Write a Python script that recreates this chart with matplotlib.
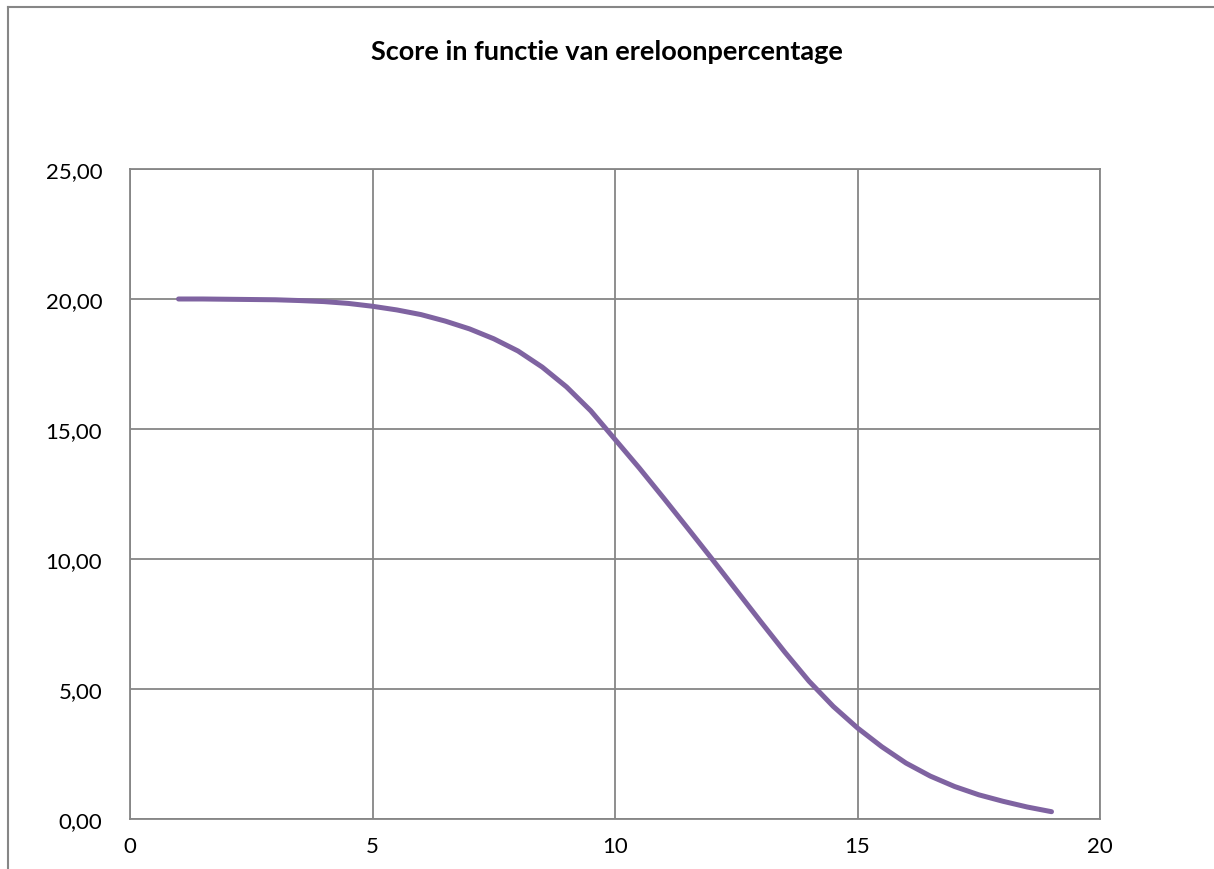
import matplotlib
matplotlib.use("Agg")
import matplotlib.pyplot as plt
from matplotlib.lines import Line2D
from matplotlib.ticker import FuncFormatter

# Gegevens (per halve eenheid)
ereloon = [1, 1.5, 2, 2.5, 3, 3.5, 4, 4.5, 5, 5.5, 6, 6.5, 7, 7.5, 8, 8.5, 9, 9.5,
           10, 10.5, 11, 11.5, 12, 12.5, 13, 13.5, 14, 14.5, 15, 15.5, 16, 16.5,
           17, 17.5, 18, 18.5, 19]
score = [20.00, 20.00, 19.99, 19.98, 19.97, 19.94, 19.90, 19.83, 19.72, 19.58,
         19.40, 19.15, 18.85, 18.47, 18.00, 17.38, 16.62, 15.70, 14.60, 13.50,
         12.35, 11.18, 10.00, 8.80, 7.60, 6.42, 5.30, 4.33, 3.50, 2.78,
         2.15, 1.65, 1.25, 0.93, 0.68, 0.46, 0.28]
x_ticks = [0, 5, 10, 15, 20]
y_ticks = [0, 5, 10, 15, 20, 25]

grid_color = "#868686"
line_color = "#7F63A1"
plt.rcParams["font.family"] = ["Lato", "DejaVu Sans"]

fig = plt.figure(figsize=(12.14, 8.70), dpi=100)
ax = fig.add_axes([0.1071, 0.0575, 0.799, 0.7471])

ax.plot(ereloon, score, color=line_color, linewidth=3.6, solid_capstyle="round",
        solid_joinstyle="round", zorder=3)

ax.set_xlim(0, 20)
ax.set_ylim(0, 25)
ax.set_xticks(x_ticks)
ax.set_yticks(y_ticks)
ax.yaxis.set_major_formatter(FuncFormatter(lambda v, p: f"{v:.2f}".replace(".", ",")))
ax.grid(True, color=grid_color, linewidth=1.3)
ax.set_axisbelow(True)
for spine in ax.spines.values():
    spine.set_color(grid_color)
    spine.set_linewidth(1.3)
ax.tick_params(axis="both", length=0, labelsize=16, colors="black")
ax.tick_params(axis="y", pad=20)
ax.tick_params(axis="x", pad=12)

fig.text(0.5, 0.940, "Score in functie van ereloonpercentage", ha="center", va="center",
         fontsize=19.5, fontweight="bold")

# rand van het grafiekgebied (links en boven zichtbaar)
fig.add_artist(Line2D([8 / 1214, 8 / 1214], [0, 1 - 8 / 870], transform=fig.transFigure,
                      color=grid_color, linewidth=1.5))
fig.add_artist(Line2D([8 / 1214, 1], [1 - 8 / 870, 1 - 8 / 870], transform=fig.transFigure,
                      color=grid_color, linewidth=1.5))

fig.savefig("out.png", dpi=100)
